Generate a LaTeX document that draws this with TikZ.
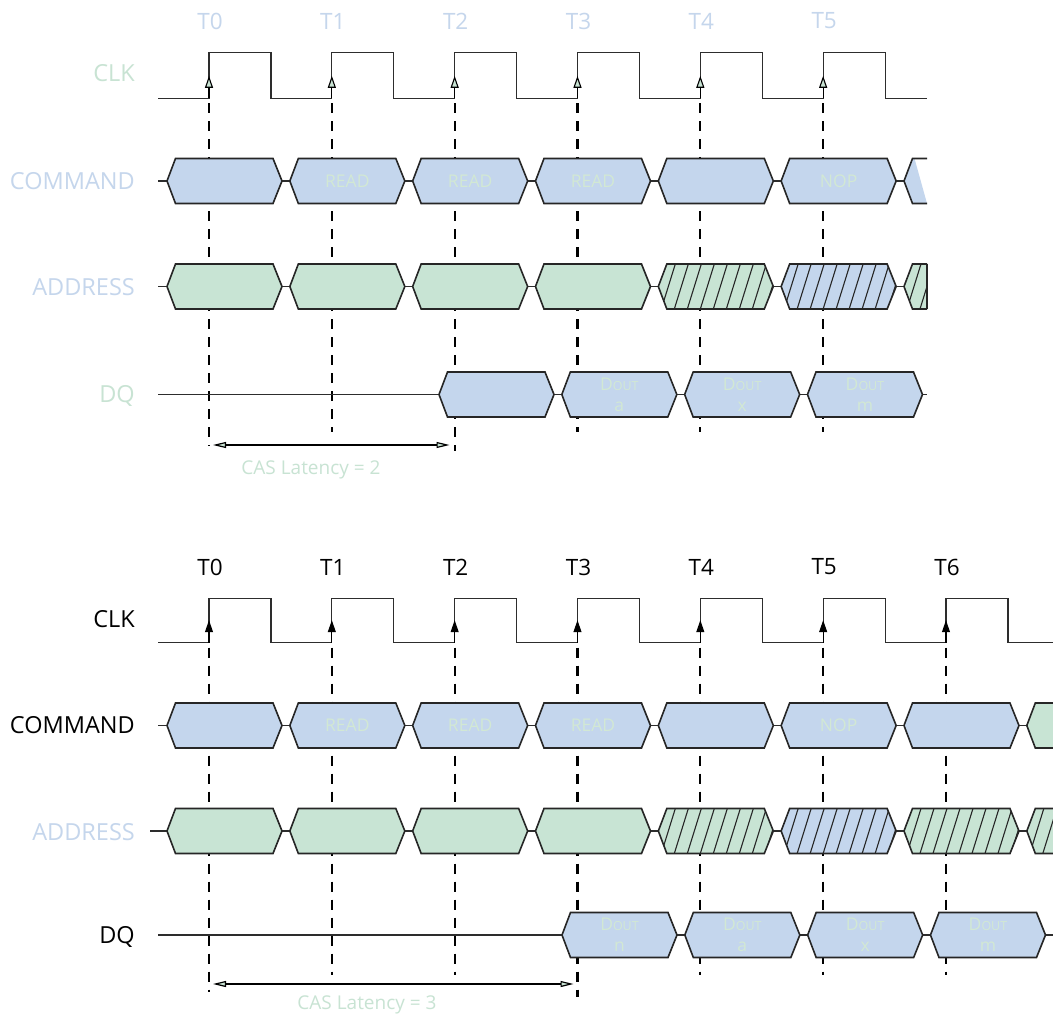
\documentclass[tikz,border=0pt]{standalone}
\usepackage{fontspec}
\setmainfont{Open Sans}
\usetikzlibrary{arrows.meta}
\definecolor{boxblue}{RGB}{196,214,237}
\definecolor{boxgreen}{RGB}{200,228,212}
\definecolor{lblblue}{RGB}{197,214,236}
\definecolor{lblgreen}{RGB}{200,227,211}
\definecolor{txtgreen}{RGB}{210,232,212}
\definecolor{linegray}{RGB}{45,45,45}
\newcommand\hexat[2]{(#1,#2) -- ++(8.5,-22.5) -- ++(97.5,0) -- ++(9,22.5) -- ++(-9,22.5) -- ++(-97.5,0) -- cycle}
\newcommand\hatchin[2]{\begin{scope}\clip \hexat{#1}{#2};
  \foreach \h in {-10,3,...,120} {\draw[hatch] (#1+\h,#2+22.5) -- ++(14,-45);}
  \end{scope}}
\begin{document}
\begin{tikzpicture}[x=1pt,y=-1pt,
  clk/.style={line width=1.3pt, draw=linegray},
  stub/.style={line width=1.3pt, draw=linegray},
  hexb/.style={line width=1.6pt, draw=black!85, line join=miter},
  vdash/.style={line width=2.3pt, dash pattern=on 10pt off 8pt, dash phase=13pt, draw=black},
  hatch/.style={line width=1.1pt, draw=black!85},
  lbl/.style={font=\fontsize{23.5}{23.5}\selectfont, anchor=east, inner sep=0pt},
  tlbl/.style={font=\fontsize{22.5}{22.5}\selectfont, inner sep=0pt},
  intxt/.style={font=\fontsize{17.5}{21}\selectfont, text=txtgreen, align=center, inner sep=0pt},
  castxt/.style={font=\fontsize{19}{19}\selectfont, text=lblgreen, inner sep=0pt},
  casarr/.style={line width=1.2pt, {Triangle[length=13pt,width=6pt,fill=lblgreen]}-{Triangle[length=13pt,width=6pt,fill=lblgreen]}},
  edgearr/.style={line width=1.1pt, draw=black, -{Triangle[length=12pt,width=8pt,fill=#1]}},
]
\useasboundingbox (0,0) rectangle (1053,1019);
\fill[white] (0,0) rectangle (1053,1019);
\def\P{122.83}
\def\dout#1{D{\fontsize{12.5}{12.5}\selectfont OUT}\\#1}

% ================= TOP DIAGRAM =================
\foreach \i in {0,...,5} {\coordinate (ta\i) at (209+\P*\i,98.3);}
\draw[vdash] (ta0) -- (209,446);
\draw[vdash] (ta1) -- (209+\P,432);
\draw[vdash] (ta2) -- (209+2*\P,451);
\foreach \i in {3,4,5} {\draw[vdash] (ta\i) -- (209+\P*\i,432);}
\draw[stub] (158,181) -- (904,181);
\draw[stub] (158,286.5) -- (904,286.5);
\draw[stub] (158,394.5) -- (927,394.5);
\foreach \i in {0,...,5} {\filldraw[hexb,fill=boxblue] \hexat{167+\P*\i}{181};}
\fill[boxblue] (904,181) -- (912.5,158.5) -- (914.5,158.5) -- (927,203.5) -- (912.5,203.5) -- cycle;
\draw[hexb] (927,158.5) -- (912.5,158.5) -- (904,181) -- (912.5,203.5) -- (927,203.5);
\node[intxt] (tc1) at (224.5+\P,181) {READ};
\node[intxt] (tc2) at (224.5+2*\P,181) {READ};
\node[intxt] (tc3) at (224.5+3*\P,181) {READ};
\node[intxt] (tc5) at (224.5+5*\P,181) {NOP};
\foreach \i in {0,...,3} {\filldraw[hexb,fill=boxgreen] \hexat{167+\P*\i}{286.5};}
\fill[boxgreen] \hexat{167+4*\P}{286.5}; \hatchin{167+4*\P}{286.5}; \draw[hexb] \hexat{167+4*\P}{286.5};
\fill[boxblue] \hexat{167+5*\P}{286.5}; \hatchin{167+5*\P}{286.5}; \draw[hexb] \hexat{167+5*\P}{286.5};
\begin{scope}
  \clip (0,0) rectangle (927,1019);
  \fill[boxgreen] \hexat{167+6*\P}{286.5}; \hatchin{167+6*\P}{286.5}; \draw[hexb] \hexat{167+6*\P}{286.5};
\end{scope}
\draw[hexb] (927,264) -- (927,309);
\foreach \k in {0,...,3} {\filldraw[hexb,fill=boxblue] \hexat{439+\P*\k}{394.5};}
\node[intxt] (td1) at (496.5+\P,394.5) {\dout{a}};
\node[intxt] (td2) at (496.5+2*\P,394.5) {\dout{x}};
\node[intxt] (td3) at (496.5+3*\P,394.5) {\dout{m}};
\draw[clk] (158,98.3) \foreach \i in {0,...,5} { -- (209+\P*\i,98.3) -- ++(0,-46) -- ++(62,0) -- ++(0,46) } -- (927,98.3);
\foreach \i in {0,...,5} {\draw[edgearr=lblgreen] (ta\i) -- ++(0,-22.5);}
\foreach \i in {0,...,5} {\node[tlbl,text=lblblue] (tt\i) at (210+\P*\i,21) {T\i};}
\node[lbl,text=lblgreen] (tclk) at (135,73) {CLK};
\node[lbl,text=lblblue] (tcmd) at (135,181) {COMMAND};
\node[lbl,text=lblblue] (tadr) at (135,287) {ADDRESS};
\node[lbl,text=lblgreen] (tdq) at (135,396) {DQ};
\coordinate (casa) at (213,445);
\coordinate (casb) at (449.5,445);
\draw[casarr] (casa) -- (casb);
\node[castxt] (cas2) at (311,470) {CAS Latency = 2};

% ================= BOTTOM DIAGRAM =================
\foreach \i in {0,...,6} {\coordinate (ba\i) at (209+\P*\i,642.7);}
\draw[vdash] (ba0) -- (209,992);
\draw[vdash] (ba1) -- (209+\P,975);
\draw[vdash] (ba2) -- (209+2*\P,975);
\draw[vdash] (ba3) -- (209+3*\P,997);
\foreach \i in {4,5,6} {\draw[vdash] (ba\i) -- (209+\P*\i,975);}
\draw[stub] (158,725.5) -- (1053,725.5);
\draw[stub] (150,831) -- (1053,831);
\draw[stub] (158,935) -- (1053,935);
\begin{scope}
\clip (0,0) rectangle (1053,1019);
\foreach \i in {0,...,6} {\filldraw[hexb,fill=boxblue] \hexat{167+\P*\i}{725.5};}
\filldraw[hexb,fill=boxgreen] \hexat{167+7*\P}{725.5};
\foreach \i in {0,...,3} {\filldraw[hexb,fill=boxgreen] \hexat{167+\P*\i}{831};}
\fill[boxgreen] \hexat{167+4*\P}{831}; \hatchin{167+4*\P}{831}; \draw[hexb] \hexat{167+4*\P}{831};
\fill[boxblue] \hexat{167+5*\P}{831}; \hatchin{167+5*\P}{831}; \draw[hexb] \hexat{167+5*\P}{831};
\fill[boxgreen] \hexat{167+6*\P}{831}; \hatchin{167+6*\P}{831}; \draw[hexb] \hexat{167+6*\P}{831};
\fill[boxgreen] \hexat{167+7*\P}{831}; \hatchin{167+7*\P}{831}; \draw[hexb] \hexat{167+7*\P}{831};
\foreach \k in {0,...,3} {\filldraw[hexb,fill=boxblue] \hexat{562+\P*\k}{935};}
\draw[clk] (158,642.7) \foreach \i in {0,...,6} { -- (209+\P*\i,642.7) -- ++(0,-44.5) -- ++(62,0) -- ++(0,44.5) } -- (1053,642.7);
\end{scope}
\node[intxt] (bc1) at (224.5+\P,725.5) {READ};
\node[intxt] (bc2) at (224.5+2*\P,725.5) {READ};
\node[intxt] (bc3) at (224.5+3*\P,725.5) {READ};
\node[intxt] (bc5) at (224.5+5*\P,725.5) {NOP};
\node[intxt] (bd0) at (619.5,935) {\dout{n}};
\node[intxt] (bd1) at (619.5+\P,935) {\dout{a}};
\node[intxt] (bd2) at (619.5+2*\P,935) {\dout{x}};
\node[intxt] (bd3) at (619.5+3*\P,935) {\dout{m}};
\foreach \i in {0,...,6} {\draw[edgearr=black] (ba\i) -- ++(0,-22.5);}
\foreach \i in {0,...,6} {\node[tlbl,text=black] (bt\i) at (210+\P*\i,567) {T\i};}
\node[lbl,text=black] (bclk) at (135,619) {CLK};
\node[lbl,text=black] (bcmd) at (135,725.5) {COMMAND};
\node[lbl,text=lblblue] (badr) at (135,832) {ADDRESS};
\node[lbl,text=black] (bdq) at (135,937) {DQ};
\coordinate (cbsa) at (213,984);
\coordinate (cbsb) at (573.5,984);
\draw[casarr] (cbsa) -- (cbsb);
\node[castxt] (cas3) at (367,1005) {CAS Latency = 3};
\end{tikzpicture}
\end{document}
